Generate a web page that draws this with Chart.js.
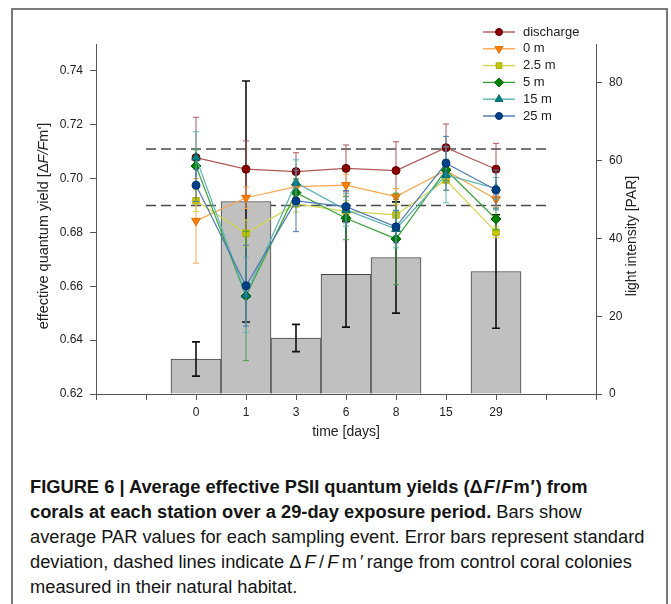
<!DOCTYPE html>
<html>
<head>
<meta charset="utf-8">
<script src="https://cdn.jsdelivr.net/npm/chart.js@4.4.1/dist/chart.umd.min.js"></script>
<style>
  html, body { margin: 0; padding: 0; background: #fff; }
  body { width: 671px; height: 604px; position: relative; overflow: hidden; font-family: "Liberation Sans", Arial, sans-serif; }
  .frame { position: absolute; left: 11px; top: 8px; width: 653px; height: 620px; border: 2px solid #7a7a7a; }
  .plot { position: absolute; left: 0; top: 0; width: 671px; height: 450px; }
  .caption { position: absolute; left: 30px; top: 474px; font-size: 18.3px; line-height: 25px; color: #151515; white-space: nowrap; }
  .caption .m1 { letter-spacing: 0.8px; }
  .caption .m4 { letter-spacing: 3.2px; }
</style>
</head>
<body>
<div class="frame"></div>
<div class="plot"><canvas id="myChart"></canvas></div>
<div class="caption"><b>FIGURE 6 | Average effective PSII quantum yields (<span class="m1">Δ<i>F</i>/<i>F</i>m′</span>) from<br>corals at each station over a 29-day exposure period.</b> Bars show<br>average PAR values for each sampling event. Error bars represent standard<br>deviation, dashed lines indicate <span class="m4">Δ<i>F</i>/<i>F</i>m′</span>range from control coral colonies<br>measured in their natural habitat.</div>
<script>
// sampling days (x categories)
const days = ["0", "1", "3", "6", "8", "15", "29"];

// light intensity bars (PAR) and their SD
const parMean = [9.0, 49.5, 14.4, 30.8, 35.1, null, 31.5];
const parSd = [4.4, 31.0, 3.5, 13.6, 14.3, null, 14.6];

// effective quantum yield per station, with SD
const discharge = [0.7078, 0.7035, 0.7026, 0.7038, 0.7030, 0.7115, 0.7035];
const dischargeSd = [0.015, 0.0105, 0.007, 0.0087, 0.0107, 0.0088, 0.0096];
const m0 = [0.6843, 0.6929, 0.6970, 0.6976, 0.6933, 0.7030, 0.6923];
const m0Sd = [0.0157, 0.004, 0.003, 0.004, 0.003, 0.003, 0.003];
const m2_5 = [0.6918, 0.6797, 0.6906, 0.6878, 0.6865, 0.6995, 0.6801];
const m2_5Sd = [0.004, 0.005, 0.003, 0.004, 0.004, 0.004, 0.002];
const m5 = [0.7047, 0.6564, 0.6948, 0.6853, 0.6776, 0.7032, 0.6850];
const m5Sd = [0.006, 0.024, 0.005, 0.008, 0.017, 0.004, 0.004];
const m15 = [0.7078, 0.6568, 0.6985, 0.6884, 0.6813, 0.7014, 0.6964];
const m15Sd = [0.0096, 0.014, 0.0085, 0.006, 0.007, 0.0104, 0.004];
const m25 = [0.6975, 0.6602, 0.6917, 0.6896, 0.6821, 0.7057, 0.6958];
const m25Sd = [0.006, 0.015, 0.0114, 0.006, 0.006, 0.010, 0.0074];

// dashed control range
const controlRange = [0.690, 0.711];

// axis ticks
const yieldTicks = { min: 0.62, max: 0.75, step: 0.02 };
const parTicks = { min: 0, max: 90, step: 20 };

// two empty slots each side of the days, as on the original axis
const xLabels = ["", ""].concat(days, ["", ""]);
const pad = arr => [null, null].concat(arr, [null, null]);

const series = [
  { label: "discharge", data: discharge, sd: dischargeSd, marker: "#8b0000", edge: "#5c0000", line: "#b05858", style: "circle", rot: 0, r: 4 },
  { label: "0 m", data: m0, sd: m0Sd, marker: "#ff7f00", edge: "#e06b00", line: "#ffa64d", style: "triangle", rot: 180, r: 5 },
  { label: "2.5 m", data: m2_5, sd: m2_5Sd, marker: "#c8c800", edge: "#a8a800", line: "#d6d64a", style: "rect", rot: 0, r: 4.5 },
  { label: "5 m", data: m5, sd: m5Sd, marker: "#008000", edge: "#006400", line: "#3da33d", style: "rectRot", rot: 0, r: 5 },
  { label: "15 m", data: m15, sd: m15Sd, marker: "#008080", edge: "#006666", line: "#5cb3b3", style: "triangle", rot: 0, r: 5 },
  { label: "25 m", data: m25, sd: m25Sd, marker: "#00408a", edge: "#00306a", line: "#4d79b3", style: "circle", rot: 0, r: 4 }
];

Chart.defaults.font.family = "'Liberation Sans', Arial, sans-serif";
Chart.defaults.color = "#222";

const datasets = [
  {
    type: "bar",
    label: "PAR",
    data: pad(parMean),
    sd: pad(parSd),
    yAxisID: "yPar",
    backgroundColor: "#c0c0c0",
    borderColor: "#454545",
    borderWidth: 1,
    barPercentage: 1,
    categoryPercentage: 1,
    order: 10
  }
];
series.forEach((s, i) => {
  datasets.push({
    type: "line",
    label: s.label,
    data: pad(s.data),
    sd: pad(s.sd),
    yAxisID: "yQ",
    borderColor: s.line,
    borderWidth: 1.2,
    pointStyle: s.style,
    pointRotation: s.rot,
    pointRadius: s.r,
    pointBackgroundColor: s.marker,
    pointBorderColor: s.edge,
    pointBorderWidth: 1,
    fill: false,
    tension: 0,
    order: 6 - i
  });
});

function drawErrors(ctx, meta, sd, yScale, color, width, half) {
  ctx.save();
  ctx.strokeStyle = color;
  ctx.lineWidth = width;
  meta.data.forEach((el, j) => {
    const v = meta._parsed[j] ? meta._parsed[j].y : null;
    if (v == null || isNaN(v) || sd[j] == null) return;
    const x = el.x;
    const yt = yScale.getPixelForValue(v + sd[j]);
    const yb = yScale.getPixelForValue(v - sd[j]);
    ctx.beginPath();
    ctx.moveTo(x, yt); ctx.lineTo(x, yb);
    ctx.moveTo(x - half, yt); ctx.lineTo(x + half, yt);
    ctx.moveTo(x - half, yb); ctx.lineTo(x + half, yb);
    ctx.stroke();
  });
  ctx.restore();
}

const extras = {
  id: "extras",
  beforeDatasetsDraw(chart) {
    const { ctx, scales } = chart;
    const x0 = scales.x.getPixelForValue(1);
    const x1 = scales.x.getPixelForValue(xLabels.length - 2);
    ctx.save();
    ctx.strokeStyle = "#4a4a4a";
    ctx.lineWidth = 1.5;
    ctx.setLineDash([10, 5]);
    controlRange.forEach(v => {
      const y = scales.yQ.getPixelForValue(v);
      ctx.beginPath();
      ctx.moveTo(x0, y);
      ctx.lineTo(x1, y);
      ctx.stroke();
    });
    ctx.restore();
  },
  afterDatasetDraw(chart, args) {
    const ds = chart.data.datasets[args.index];
    if (ds.type === "bar") {
      drawErrors(chart.ctx, args.meta, ds.sd, chart.scales.yPar, "#111", 1.6, 4);
    }
  },
  beforeDatasetDraw(chart, args) {
    const ds = chart.data.datasets[args.index];
    if (ds.type === "line") {
      drawErrors(chart.ctx, args.meta, ds.sd, chart.scales.yQ, ds.borderColor, 1, 3);
    }
  },
  afterDraw(chart) {
    const { ctx, chartArea } = chart;
    // legend, top right
    ctx.save();
    ctx.font = "13px 'Liberation Sans', Arial, sans-serif";
    ctx.textBaseline = "middle";
    const lx = chartArea.right - 113;
    series.forEach((s, i) => {
      const y = chartArea.top - 12 + i * 16.8;
      ctx.strokeStyle = s.line;
      ctx.lineWidth = 1.4;
      ctx.beginPath();
      ctx.moveTo(lx, y);
      ctx.lineTo(lx + 32, y);
      ctx.stroke();
      ctx.fillStyle = s.marker;
      ctx.strokeStyle = s.edge;
      ctx.lineWidth = 1;
      Chart.helpers.drawPoint(ctx, { pointStyle: s.style, rotation: s.rot, radius: s.r - 0.5, borderWidth: 1 }, lx + 16, y);
      ctx.fillStyle = "#222";
      ctx.fillText(s.label, lx + 40, y);
    });
    ctx.restore();

    // left axis title with italic F's
    const parts = [
      ["effective quantum yield [Δ", ""],
      ["F/F", "italic "],
      ["m']", ""]
    ];
    const tf = "14.5px 'Liberation Sans', Arial, sans-serif";
    ctx.save();
    ctx.translate(44, 226);
    ctx.rotate(-Math.PI / 2);
    ctx.textBaseline = "middle";
    ctx.fillStyle = "#222";
    let total = 0;
    parts.forEach(p => { ctx.font = p[1] + tf; total += ctx.measureText(p[0]).width; });
    let px = -total / 2;
    parts.forEach(p => {
      ctx.font = p[1] + tf;
      ctx.fillText(p[0], px, 0);
      px += ctx.measureText(p[0]).width;
    });
    ctx.restore();

    // right axis title, reading upward
    ctx.save();
    ctx.translate(632, 236);
    ctx.rotate(-Math.PI / 2);
    ctx.textAlign = "center";
    ctx.textBaseline = "middle";
    ctx.fillStyle = "#222";
    ctx.font = "14px 'Liberation Sans', Arial, sans-serif";
    ctx.fillText("light intensity [PAR]", 0, 0);
    ctx.restore();
  }
};

const axisGrid = { drawOnChartArea: false, drawTicks: true, tickLength: 6, color: "#555" };
const axisBorder = { display: true, color: "#555", width: 1 };

new Chart("myChart", {
  data: { labels: xLabels, datasets: datasets },
  options: {
    responsive: true,
    maintainAspectRatio: false,
    animation: false,
    events: [],
    layout: { padding: { top: 44, left: 0, right: 0, bottom: 0 } },
    plugins: { legend: { display: false }, tooltip: { enabled: false } },
    scales: {
      x: {
        type: "category",
        offset: false,
        grid: Object.assign({ offset: false }, axisGrid),
        border: axisBorder,
        ticks: { autoSkip: false, maxRotation: 0, padding: 5, font: { size: 12 } },
        title: { display: true, text: "time [days]", font: { size: 14 }, padding: { top: 0, bottom: 9.6 } },
        afterFit(scale) { scale.height = 56; }
      },
      yQ: {
        position: "left",
        min: yieldTicks.min,
        max: yieldTicks.max,
        grid: axisGrid,
        border: axisBorder,
        ticks: {
          stepSize: yieldTicks.step,
          includeBounds: false,
          padding: 7,
          font: { size: 12 },
          callback: v => v.toFixed(2)
        },
        afterFit(scale) { scale.width = 96; }
      },
      yPar: {
        position: "right",
        min: parTicks.min,
        max: parTicks.max,
        grid: axisGrid,
        border: axisBorder,
        ticks: { stepSize: parTicks.step, includeBounds: false, padding: 7, font: { size: 12 } },
        afterFit(scale) { scale.width = 75; }
      }
    }
  },
  plugins: [extras]
});
</script>
</body>
</html>
